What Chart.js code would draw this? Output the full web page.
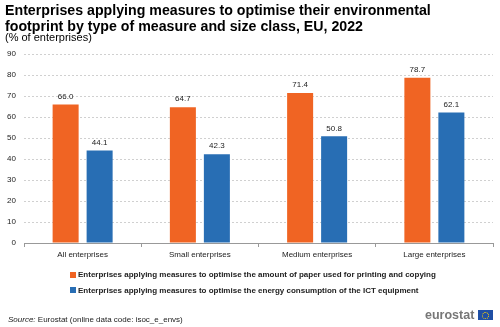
<!DOCTYPE html>
<html>
<head>
<meta charset="utf-8">
<script src="https://cdn.jsdelivr.net/npm/chart.js@4.4.1/dist/chart.umd.min.js"></script>
<style>
  html, body { margin: 0; padding: 0; background: #fff; }
  #wrap { position: relative; width: 500px; height: 327px; overflow: hidden; font-family: Arial, 'Liberation Sans', sans-serif; color: #000; }
  #chart { position: absolute; left: 0; top: 0; }
  .title { position: absolute; left: 5px; top: 2px; font-weight: bold; font-size: 14.2px; line-height: 16px; }
  .sub { position: absolute; left: 5px; top: 31px; font-size: 11px; line-height: 12px; }
  .legend { position: absolute; left: 70px; top: 270px; font-size: 8px; font-weight: bold; color: #222; }
  .legend div { height: 15.5px; line-height: 10px; white-space: nowrap; }
  .legend span { display: inline-block; width: 6px; height: 6px; margin-right: 2px; vertical-align: -0.5px; }
  .source { position: absolute; left: 8px; top: 315px; font-size: 8px; color: #222; }
  .logo { position: absolute; left: 425px; top: 308px; font-size: 12.5px; font-weight: bold; color: #777; }
  .flag { position: absolute; left: 478px; top: 310px; width: 15px; height: 10px; background: #1f4fa5; }
  .flag i { position: absolute; left: 4px; top: 1.5px; width: 5px; height: 5px; border: 1px dotted #ffd400; border-radius: 50%; }
</style>
</head>
<body>
<div id="wrap">
  <canvas id="chart" width="500" height="327"></canvas>
  <div class="title">Enterprises applying measures to optimise their environmental<br>footprint by type of measure and size class, EU, 2022</div>
  <div class="sub">(% of enterprises)</div>
  <div class="legend" id="legend"></div>
  <div class="source"><i>Source:</i> Eurostat (online data code: isoc_e_envs)</div>
  <div class="logo">eurostat</div>
  <div class="flag"><i></i></div>
</div>
<script>
// ============ DATA ============
const categories = ['All enterprises', 'Small enterprises', 'Medium enterprises', 'Large enterprises'];
const paperVals = [66.0, 64.7, 71.4, 78.7];
const energyVals = [44.1, 42.3, 50.8, 62.1];
const seriesNames = [
  'Enterprises applying measures to optimise the amount of paper used for printing and copying',
  'Enterprises applying measures to optimise the energy consumption of the ICT equipment'
];
const colors = ['#F06423', '#286EB4'];

const FONT = 'Arial, "Liberation Sans", sans-serif';

// value labels above bars
const valueLabels = {
  id: 'valueLabels',
  afterDatasetsDraw(chart) {
    const ctx = chart.ctx;
    ctx.save();
    ctx.font = '8px ' + FONT;
    ctx.fillStyle = '#222';
    ctx.textAlign = 'center';
    ctx.textBaseline = 'bottom';
    chart.data.datasets.forEach((ds, i) => {
      chart.getDatasetMeta(i).data.forEach((bar, j) => {
        ctx.fillText(ds.data[j].toFixed(1), bar.x, bar.y - 4);
      });
    });
    ctx.restore();
  }
};

new Chart(document.getElementById('chart'), {
  type: 'bar',
  data: {
    labels: categories,
    datasets: [
      { label: seriesNames[0], data: paperVals, backgroundColor: colors[0], categoryPercentage: 0.58, barPercentage: 0.765 },
      { label: seriesNames[1], data: energyVals, backgroundColor: colors[1], categoryPercentage: 0.58, barPercentage: 0.765 }
    ]
  },
  options: {
    responsive: false,
    animation: false,
    layout: { padding: { top: 54, bottom: 64, left: 0, right: 7 } },
    plugins: { legend: { display: false }, tooltip: { enabled: false } },
    scales: {
      x: {
        afterFit: s => { s.height = 20; },
        grid: { offset: true, drawOnChartArea: false, tickLength: 4, color: '#999' },
        border: { color: '#999' },
        ticks: { color: '#222', font: { size: 8, family: FONT }, padding: 3 }
      },
      y: {
        min: 0, max: 90,
        afterFit: s => { s.width = 24; },
        grid: { color: '#d0d0d0', drawTicks: false },
        border: { display: false, dash: [2, 2] },
        ticks: { stepSize: 10, color: '#222', padding: 8, font: { size: 8, family: FONT } }
      }
    }
  },
  plugins: [valueLabels]
});

document.getElementById('legend').innerHTML = seriesNames.map((n, i) =>
  `<div><span style="background:${colors[i]}"></span>${n}</div>`).join('');
</script>
</body>
</html>
